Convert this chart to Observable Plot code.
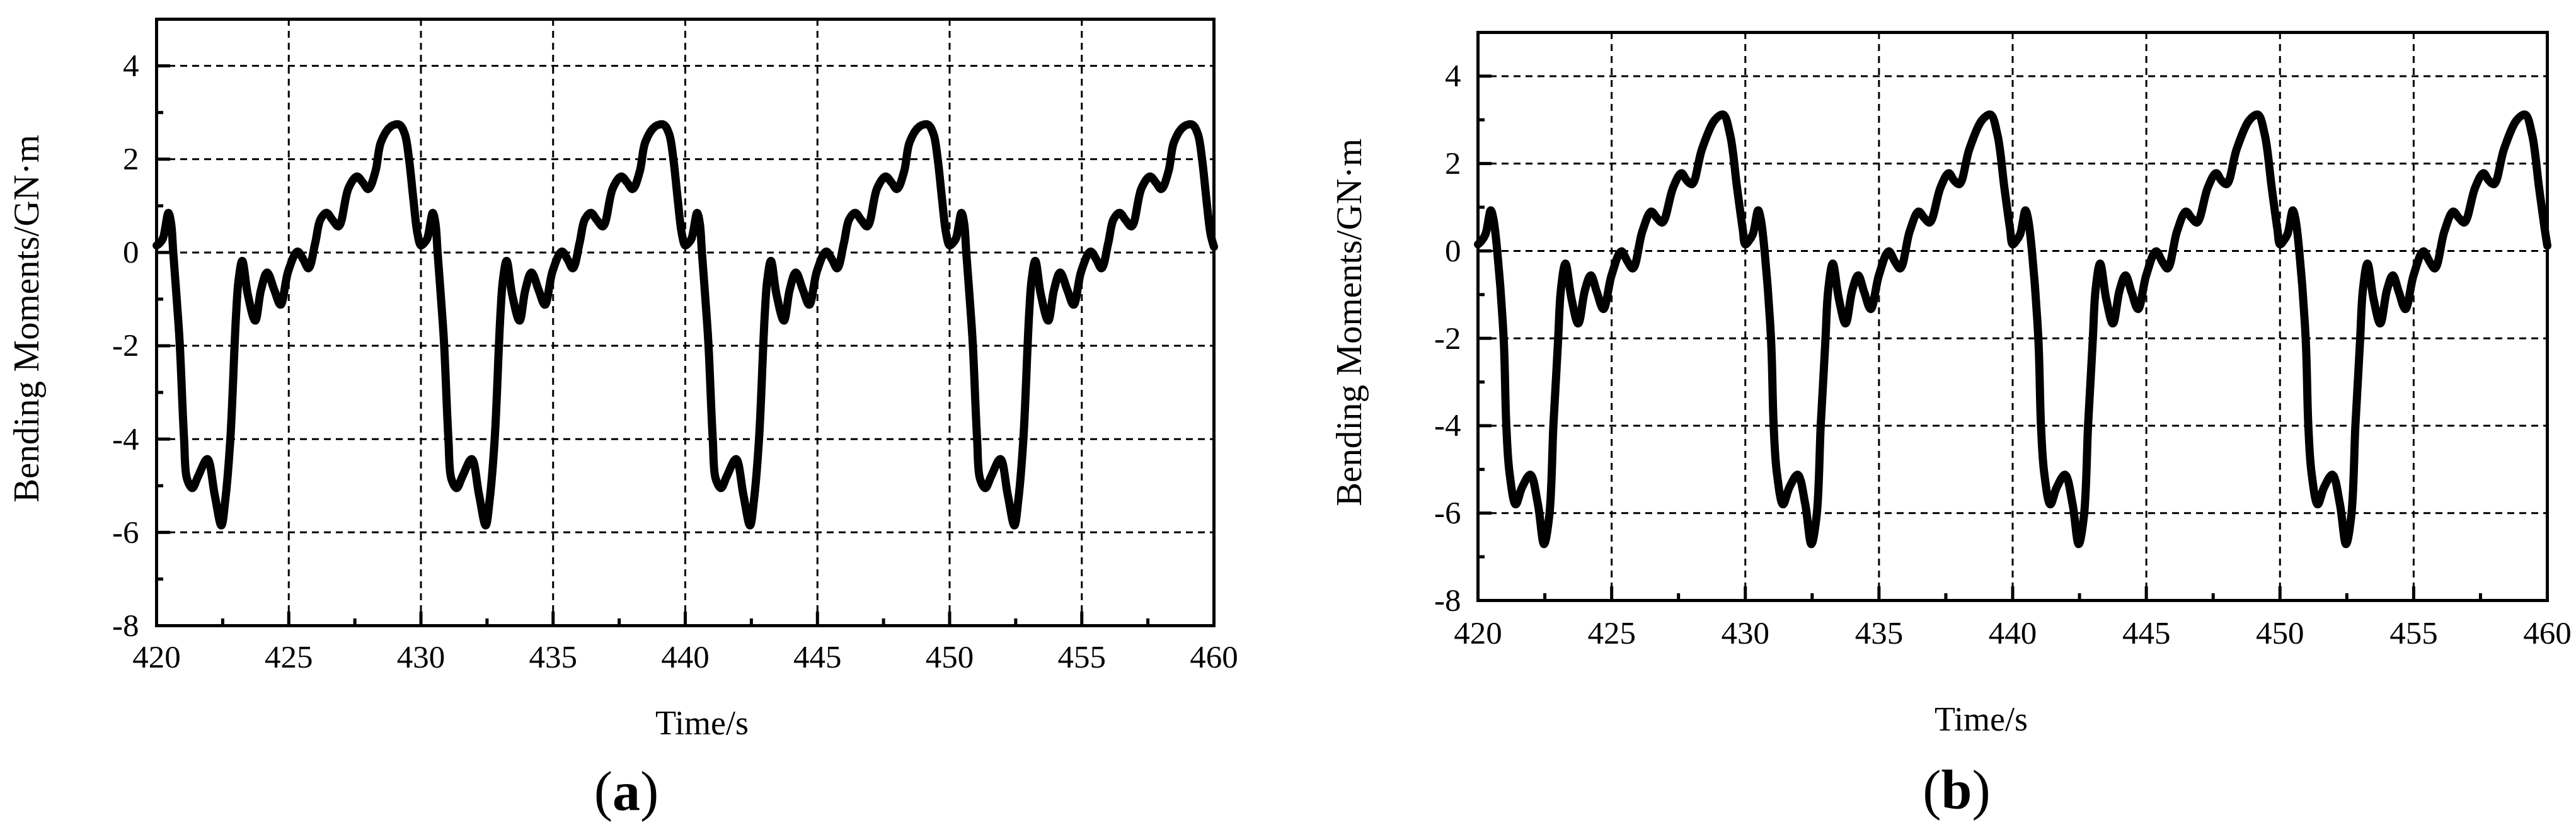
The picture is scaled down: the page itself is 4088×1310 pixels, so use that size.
<!DOCTYPE html>
<html>
<head>
<meta charset="utf-8">
<script src="https://cdn.jsdelivr.net/npm/d3@7"></script>
<script src="https://cdn.jsdelivr.net/npm/@observablehq/plot@0.6"></script>
<style>
  html, body { margin: 0; padding: 0; background: #fff; }
  #fig { position: relative; width: 4088px; height: 1310px; background: #fff; font-family: "Liberation Serif", "Times New Roman", serif; color: #000; }
  #fig svg, #fig svg text { font-family: "Liberation Serif", "Times New Roman", serif !important; }
  .panel { position: absolute; top: 0; }
  .lab { position: absolute; white-space: nowrap; line-height: 1; color: #000; }
</style>
</head>
<body>
<div id="fig">
  <div id="pa" class="panel" style="left:0px"></div>
  <div id="pb" class="panel" style="left:2044px"></div>
  <div class="lab" style="font-size:57px;left:41px;top:506px;transform:translate(-50%,-50%) rotate(-90deg)">Bending Moments/GN·m</div>
  <div class="lab" style="font-size:57px;left:2140px;top:512px;transform:translate(-50%,-50%) rotate(-90deg)">Bending Moments/GN·m</div>
  <div class="lab" style="font-size:54px;left:1114px;top:1121px;transform:translateX(-50%)">Time/s</div>
  <div class="lab" style="font-size:54px;left:3144px;top:1115px;transform:translateX(-50%)">Time/s</div>
  <div class="lab" style="font-size:88px;left:994px;top:1213px;transform:translateX(-50%)">(<b>a</b>)</div>
  <div class="lab" style="font-size:88px;left:3105px;top:1211px;transform:translateX(-50%)">(<b>b</b>)</div>
</div>
<script>
// ---- tick values ----
const xTicks = [420, 425, 430, 435, 440, 445, 450, 455, 460];
const xMinorTicks = [422.5, 427.5, 432.5, 437.5, 442.5, 447.5, 452.5, 457.5];
const yTicks = [-8, -6, -4, -2, 0, 2, 4];
const yMinorTicks = [-7, -5, -3, -1, 1, 3];
const xGrid = [425, 430, 435, 440, 445, 450, 455];
const yGrid = [-6, -4, -2, 0, 2, 4];

// ---- panel (a): time (s) and bending moment (GN·m) ----
const timeA = [
  420.00,420.12,420.24,420.45,420.55,420.63,420.80,420.88,421.04,421.15,421.35,421.57,421.92,422.20,422.45,422.60,422.79,422.95,423.01,423.10,423.24,423.45,423.73,423.95,424.18,424.45,424.69,424.98,425.33,425.55,425.75,426.00,426.20,426.43,426.65,426.89,427.26,427.58,427.80,428.01,428.28,428.49,428.86,429.18,429.39,429.55,429.71,429.87,
  430.00,430.12,430.24,430.45,430.55,430.63,430.80,430.88,431.04,431.15,431.35,431.57,431.92,432.20,432.45,432.60,432.79,432.95,433.01,433.10,433.24,433.45,433.73,433.95,434.18,434.45,434.69,434.98,435.33,435.55,435.75,436.00,436.20,436.43,436.65,436.89,437.26,437.58,437.80,438.01,438.28,438.49,438.86,439.18,439.39,439.55,439.71,439.87,
  440.00,440.12,440.24,440.45,440.55,440.63,440.80,440.88,441.04,441.15,441.35,441.57,441.92,442.20,442.45,442.60,442.79,442.95,443.01,443.10,443.24,443.45,443.73,443.95,444.18,444.45,444.69,444.98,445.33,445.55,445.75,446.00,446.20,446.43,446.65,446.89,447.26,447.58,447.80,448.01,448.28,448.49,448.86,449.18,449.39,449.55,449.71,449.87,
  450.00,450.12,450.24,450.45,450.55,450.63,450.80,450.88,451.04,451.15,451.35,451.57,451.92,452.20,452.45,452.60,452.79,452.95,453.01,453.10,453.24,453.45,453.73,453.95,454.18,454.45,454.69,454.98,455.33,455.55,455.75,456.00,456.20,456.43,456.65,456.89,457.26,457.58,457.80,458.01,458.28,458.49,458.86,459.18,459.39,459.55,459.71,459.87,
  460.00
];
const momentA = [
  0.15,0.20,0.30,0.85,0.62,0.00,-1.30,-2.00,-4.00,-4.85,-5.05,-4.80,-4.43,-5.20,-5.85,-5.30,-4.00,-2.00,-1.30,-0.60,-0.18,-0.90,-1.46,-0.80,-0.43,-0.80,-1.12,-0.40,0.02,-0.15,-0.34,0.20,0.71,0.85,0.70,0.56,1.38,1.63,1.50,1.36,1.74,2.37,2.70,2.74,2.54,2.00,1.16,0.40,
  0.15,0.20,0.30,0.85,0.62,0.00,-1.30,-2.00,-4.00,-4.85,-5.05,-4.80,-4.43,-5.20,-5.85,-5.30,-4.00,-2.00,-1.30,-0.60,-0.18,-0.90,-1.46,-0.80,-0.43,-0.80,-1.12,-0.40,0.02,-0.15,-0.34,0.20,0.71,0.85,0.70,0.56,1.38,1.63,1.50,1.36,1.74,2.37,2.70,2.74,2.54,2.00,1.16,0.40,
  0.15,0.20,0.30,0.85,0.62,0.00,-1.30,-2.00,-4.00,-4.85,-5.05,-4.80,-4.43,-5.20,-5.85,-5.30,-4.00,-2.00,-1.30,-0.60,-0.18,-0.90,-1.46,-0.80,-0.43,-0.80,-1.12,-0.40,0.02,-0.15,-0.34,0.20,0.71,0.85,0.70,0.56,1.38,1.63,1.50,1.36,1.74,2.37,2.70,2.74,2.54,2.00,1.16,0.40,
  0.15,0.20,0.30,0.85,0.62,0.00,-1.30,-2.00,-4.00,-4.85,-5.05,-4.80,-4.43,-5.20,-5.85,-5.30,-4.00,-2.00,-1.30,-0.60,-0.18,-0.90,-1.46,-0.80,-0.43,-0.80,-1.12,-0.40,0.02,-0.15,-0.34,0.20,0.71,0.85,0.70,0.56,1.38,1.63,1.50,1.36,1.74,2.37,2.70,2.74,2.54,2.00,1.16,0.40,
  0.12
];

// ---- panel (b) ----
const timeB = [
  420.00,420.12,420.28,420.48,420.58,420.72,420.96,421.06,421.18,421.41,421.65,421.96,422.24,422.47,422.67,422.82,422.92,423.00,423.10,423.27,423.50,423.75,424.00,424.22,424.45,424.69,425.00,425.36,425.60,425.80,426.15,426.48,426.70,426.90,427.30,427.61,427.80,428.01,428.38,428.85,429.17,429.43,429.69,429.90,
  430.00,430.12,430.28,430.48,430.58,430.72,430.96,431.06,431.18,431.41,431.65,431.96,432.24,432.47,432.67,432.82,432.92,433.00,433.10,433.27,433.50,433.75,434.00,434.22,434.45,434.69,435.00,435.36,435.60,435.80,436.15,436.48,436.70,436.90,437.30,437.61,437.80,438.01,438.38,438.85,439.17,439.43,439.69,439.90,
  440.00,440.12,440.28,440.48,440.58,440.72,440.96,441.06,441.18,441.41,441.65,441.96,442.24,442.47,442.67,442.82,442.92,443.00,443.10,443.27,443.50,443.75,444.00,444.22,444.45,444.69,445.00,445.36,445.60,445.80,446.15,446.48,446.70,446.90,447.30,447.61,447.80,448.01,448.38,448.85,449.17,449.43,449.69,449.90,
  450.00,450.12,450.28,450.48,450.58,450.72,450.96,451.06,451.18,451.41,451.65,451.96,452.24,452.47,452.67,452.82,452.92,453.00,453.10,453.27,453.50,453.75,454.00,454.22,454.45,454.69,455.00,455.36,455.60,455.80,456.15,456.48,456.70,456.90,457.30,457.61,457.80,458.01,458.38,458.85,459.17,459.43,459.69,459.90,
  460.00
];
const momentB = [
  0.15,0.22,0.38,0.93,0.72,0.00,-2.00,-4.00,-5.08,-5.80,-5.41,-5.12,-5.79,-6.71,-6.04,-4.00,-2.90,-2.00,-0.90,-0.29,-1.10,-1.66,-0.90,-0.56,-0.95,-1.33,-0.55,-0.01,-0.25,-0.40,0.45,0.90,0.75,0.65,1.45,1.78,1.62,1.53,2.33,2.99,3.12,2.66,1.45,0.51,
  0.15,0.22,0.38,0.93,0.72,0.00,-2.00,-4.00,-5.08,-5.80,-5.41,-5.12,-5.79,-6.71,-6.04,-4.00,-2.90,-2.00,-0.90,-0.29,-1.10,-1.66,-0.90,-0.56,-0.95,-1.33,-0.55,-0.01,-0.25,-0.40,0.45,0.90,0.75,0.65,1.45,1.78,1.62,1.53,2.33,2.99,3.12,2.66,1.45,0.51,
  0.15,0.22,0.38,0.93,0.72,0.00,-2.00,-4.00,-5.08,-5.80,-5.41,-5.12,-5.79,-6.71,-6.04,-4.00,-2.90,-2.00,-0.90,-0.29,-1.10,-1.66,-0.90,-0.56,-0.95,-1.33,-0.55,-0.01,-0.25,-0.40,0.45,0.90,0.75,0.65,1.45,1.78,1.62,1.53,2.33,2.99,3.12,2.66,1.45,0.51,
  0.15,0.22,0.38,0.93,0.72,0.00,-2.00,-4.00,-5.08,-5.80,-5.41,-5.12,-5.79,-6.71,-6.04,-4.00,-2.90,-2.00,-0.90,-0.29,-1.10,-1.66,-0.90,-0.56,-0.95,-1.33,-0.55,-0.01,-0.25,-0.40,0.45,0.90,0.75,0.65,1.45,1.78,1.62,1.53,2.33,2.99,3.12,2.66,1.45,0.51,
  0.12
];

const serif = "'Liberation Serif', 'Times New Roman', serif";

function makePanel(times, moments, m, xPad, yPad) {
  const data = times.map((t, i) => ({t, v: moments[i]}));
  const fmt = d => String(d);
  const blank = () => "";
  return Plot.plot({
    width: 2044,
    height: 1100,
    marginLeft: m.left,
    marginRight: m.right,
    marginTop: m.top,
    marginBottom: m.bottom,
    style: `font-family: ${serif}; background: #fff; color: #000; overflow: visible;`,
    x: {domain: [420, 460], label: null},
    y: {domain: [-8, 5], label: null},
    marks: [
      Plot.ruleX(xGrid, {stroke: "#000", strokeWidth: 3, strokeDasharray: "11,8"}),
      Plot.ruleY(yGrid, {stroke: "#000", strokeWidth: 3, strokeDasharray: "11,8"}),
      Plot.axisX({ticks: xTicks, tickSize: -22, strokeWidth: 5, tickFormat: blank, label: null}),
      Plot.axisX({ticks: xMinorTicks, tickSize: -11, strokeWidth: 5, tickFormat: blank, label: null}),
      Plot.axisX({ticks: xTicks, tickSize: 0, tickPadding: xPad, tickFormat: fmt, fontSize: 51, fontFamily: serif, label: null}),
      Plot.axisY({ticks: yTicks, tickSize: -22, strokeWidth: 5, tickFormat: blank, label: null}),
      Plot.axisY({ticks: yMinorTicks, tickSize: -11, strokeWidth: 5, tickFormat: blank, label: null}),
      Plot.axisY({ticks: yTicks, tickSize: 0, tickPadding: yPad, tickFormat: fmt, fontSize: 51, fontFamily: serif, label: null}),
      Plot.line(data, {x: "t", y: "v", curve: "catmull-rom", stroke: "#000", strokeWidth: 13, strokeLinejoin: "round", strokeLinecap: "round"}),
      Plot.frame({stroke: "#000", strokeWidth: 5})
    ]
  });
}

document.getElementById("pa").appendChild(
  makePanel(timeA, momentA, {left: 248, right: 118, top: 30, bottom: 107}, 30, 28)
);
document.getElementById("pb").appendChild(
  makePanel(timeB, momentB, {left: 301, right: 46, top: 51, bottom: 147}, 32, 27)
);
</script>
</body>
</html>
